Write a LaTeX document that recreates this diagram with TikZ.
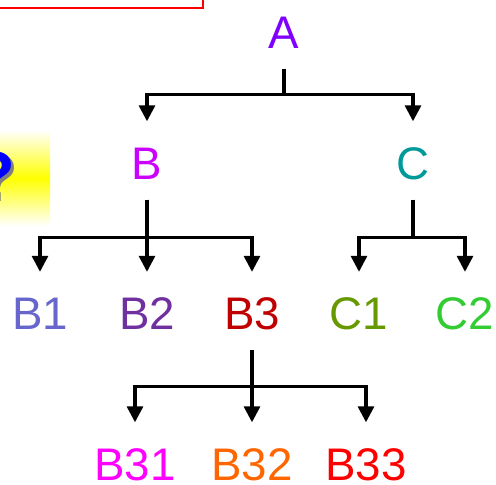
\documentclass[tikz,border=0pt]{standalone}
\usepackage{fontspec}
\setmainfont{Liberation Sans}
\usepackage{xcolor}
\usepackage{tikz}
\usetikzlibrary{arrows.meta, calc}

\definecolor{colA}{RGB}{127,0,255}
\definecolor{colB}{RGB}{204,0,255}
\definecolor{colC}{RGB}{0,153,153}
\definecolor{colBone}{RGB}{102,102,204}
\definecolor{colBtwo}{RGB}{112,48,160}
\definecolor{colBthree}{RGB}{192,0,0}
\definecolor{colCone}{RGB}{102,153,0}
\definecolor{colCtwo}{RGB}{51,204,51}
\definecolor{colBtt}{RGB}{255,0,255}
\definecolor{colBttwo}{RGB}{255,102,0}
\definecolor{colBtth}{RGB}{255,0,0}

\begin{document}
\begin{tikzpicture}[
    lbl/.style = {font=\fontsize{26}{30}\selectfont, inner sep=0pt, text height=18.6pt, text depth=0pt},
    arrow/.style = {line width=1.8pt, -{Triangle[width=0.32cm, length=0.32cm]}, shorten <=0.4cm, shorten >=0.5cm}
]
\useasboundingbox (0,0) rectangle (9.92,-9.70);

% Slide leftovers at the edge
\draw [red, line width=1.5pt] (-0.5,0.5) rectangle (4.06,-0.16);
\shade [top color=white, bottom color=white, middle color=yellow] (0,-2.60) rectangle (1.0,-4.52);
\node (qs) [text=gray, font=\bfseries\fontsize{38}{44}\selectfont, inner sep=0pt] at (-0.05,-3.56) {?};
\node (q) [text=blue, font=\bfseries\fontsize{38}{44}\selectfont, inner sep=0pt] at (-0.1,-3.50) {?};

% Nodes of the tree
\node (A) [lbl, text=colA] at (5.68,-0.64) {A};
\node (B) [lbl, text=colB] at (2.94,-3.26) {B};
\node (C) [lbl, text=colC] at (8.26,-3.26) {C};
\node (B1) [lbl, text=colBone] at (0.80,-6.27) {B1};
\node (B2) [lbl, text=colBtwo] at (2.94,-6.27) {B2};
\node (B3) [lbl, text=colBthree] at (5.04,-6.27) {B3};
\node (C1) [lbl, text=colCone] at (7.18,-6.27) {C1};
\node (C2) [lbl, text=colCtwo] at (9.30,-6.27) {C2};
\node (B31) [lbl, text=colBtt] at (2.70,-9.28) {B31};
\node (B32) [lbl, text=colBttwo] at (5.04,-9.28) {B32};
\node (B33) [lbl, text=colBtth] at (7.32,-9.28) {B33};

% Arrows
\foreach \c in {B,C}
    \draw [arrow] (A.south) -- ++(0,-0.92) -| (\c.north);
\foreach \c in {B1,B2,B3}
    \draw [arrow] (B.south) -- ++(0,-1.16) -| (\c.north);
\foreach \c in {C1,C2}
    \draw [arrow] (C.south) -- ++(0,-1.16) -| (\c.north);
\foreach \c in {B31,B32,B33}
    \draw [arrow] (B3.south) -- ++(0,-1.13) -| (\c.north);

\end{tikzpicture}
\end{document}
